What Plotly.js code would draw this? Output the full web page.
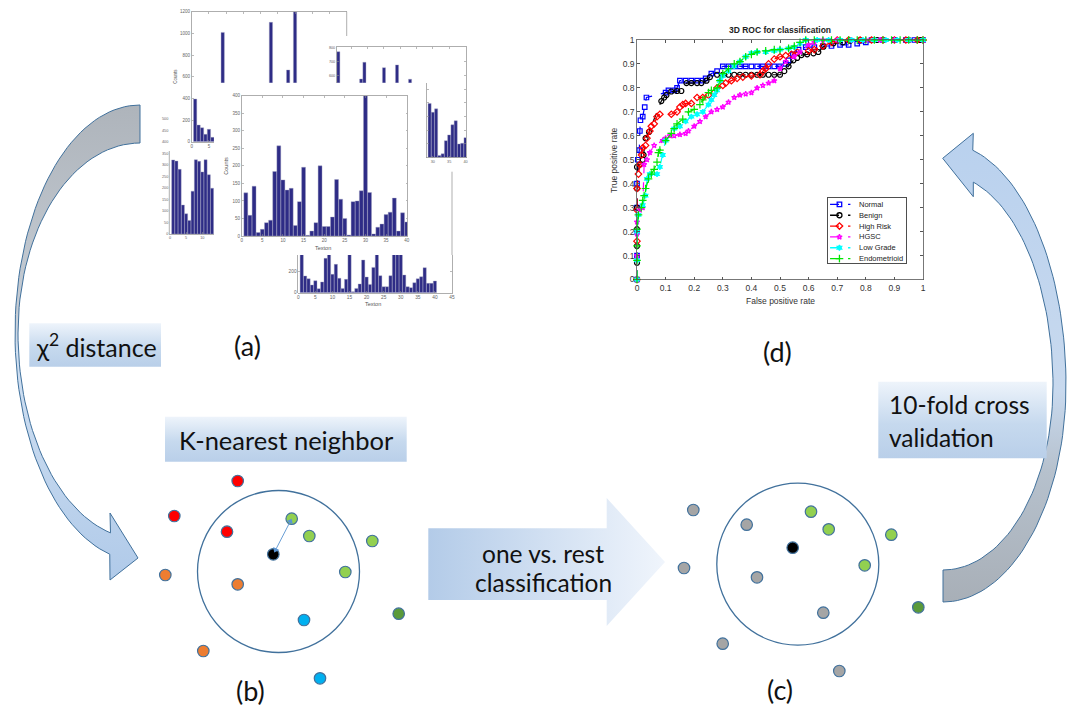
<!DOCTYPE html>
<html><head><meta charset="utf-8">
<script src="https://cdn.plot.ly/plotly-3.0.1.min.js"></script>
<style>html,body{margin:0;padding:0;background:#fff;}#chart{width:1073px;height:710px;}</style>
</head><body><div id="chart"></div>
<script>
// ================= DATA =================
// (a) texton histograms
const histT1X = [1,2,3,4,5,6,9,23,28,30];
const histT1Y = [394,154,129,68,114,40,1009,1102,662,1200];
const histTRX = [1,8,9,15,19,23,29,30,31,32,33,34,35,36,37,38,39,40];
const histTRY = [771,573,694,655,675,571,395,330,355,15,27,123,165,239,268,99,104,145];
const histLX = [1,2,3,4,5,6,7,8,9,10,11,12,13];
const histLY = [322,317,281,126,88,59,186,323,316,270,323,258,199];
const textonBins = [1,2,3,4,5,6,7,8,9,10,11,12,13,14,15,16,17,18,19,20,21,22,23,24,25,26,27,28,29,30,31,32,33,34,35,36,37,38,39,40];
const histCY = [123,59,142,10,19,38,45,184,257,160,131,136,30,98,196,2,14,38,200,27,27,54,161,105,50,3,98,100,129,400,124,6,25,34,61,68,108,14,66,40];
const histBY = [380,159,133,73,114,38,102,327,380,175,270,137,41,127,380,10,41,83,311,149,79,241,380,162,57,57,162,380,380,380,168,57,48,95,133,152,238,89,89,111];
const histT1TicksY = [600,800,1000,1200];
const histT1TicksYLow = [0,200,400];
const histTRTicksY = [600,700,800];
const histLTicksY = [0,50,100,150,200,250,300,350,400,450,500];
const histBTicksY = [0,200];
const histTitles = ['Counts','Texton'];

// (d) ROC curves [FPR, TPR]
const rocClasses = ['Normal','Benign','High Risk','HGSC','Low Grade','Endometrioid'];
const rocNormal = [[0,0],[0,0.1],[0,0.2],[0,0.3],[0,0.4],[0.003,0.5],[0.008,0.54],[0.01,0.62],[0.012,0.665],[0.02,0.68],[0.027,0.72],[0.033,0.76],[0.1,0.78],[0.11,0.79],[0.13,0.79],[0.14,0.8],[0.15,0.83],[0.17,0.83],[0.19,0.83],[0.21,0.83],[0.23,0.83],[0.24,0.84],[0.26,0.86],[0.28,0.87],[0.3,0.89],[0.32,0.89],[0.34,0.89],[0.36,0.89],[0.38,0.89],[0.4,0.89],[0.42,0.89],[0.44,0.89],[0.46,0.89],[0.48,0.89],[0.5,0.89],[0.52,0.9],[0.53,0.915],[0.545,0.94],[0.565,0.96],[0.59,0.97],[0.62,0.97],[0.65,0.975],[0.68,0.975],[0.71,0.98],[0.74,0.98],[0.77,0.985],[0.8,0.99],[0.82,1],[0.86,1],[0.9,1],[0.94,1],[0.97,1],[1,1]];
const rocBenign = [[0,0],[0,0.07],[0,0.14],[0,0.21],[0,0.3],[0,0.38],[0,0.47],[0.01,0.48],[0.02,0.5],[0.023,0.52],[0.03,0.59],[0.042,0.616],[0.085,0.745],[0.095,0.76],[0.103,0.77],[0.12,0.785],[0.14,0.787],[0.155,0.787],[0.173,0.82],[0.19,0.82],[0.21,0.82],[0.225,0.82],[0.243,0.83],[0.255,0.845],[0.28,0.855],[0.3,0.855],[0.32,0.855],[0.34,0.855],[0.36,0.855],[0.38,0.855],[0.4,0.855],[0.42,0.855],[0.44,0.855],[0.46,0.855],[0.48,0.855],[0.5,0.855],[0.515,0.87],[0.53,0.89],[0.547,0.915],[0.56,0.925],[0.575,0.937],[0.595,0.94],[0.617,0.944],[0.634,0.95],[0.652,0.972],[0.687,0.986],[0.72,0.99],[0.745,0.997],[0.78,1],[0.84,1],[0.9,1],[0.95,1],[0.99,1]];
const rocHighRisk = [[0,0],[0,0.16],[0,0.29],[0,0.38],[0.005,0.44],[0.01,0.48],[0.016,0.52],[0.02,0.55],[0.03,0.56],[0.035,0.59],[0.045,0.62],[0.05,0.64],[0.06,0.65],[0.07,0.68],[0.08,0.69],[0.12,0.69],[0.14,0.7],[0.15,0.72],[0.16,0.73],[0.17,0.735],[0.19,0.735],[0.21,0.76],[0.23,0.76],[0.25,0.77],[0.27,0.78],[0.28,0.8],[0.3,0.81],[0.31,0.82],[0.33,0.83],[0.35,0.84],[0.37,0.845],[0.4,0.85],[0.43,0.855],[0.44,0.87],[0.45,0.88],[0.46,0.9],[0.48,0.92],[0.5,0.93],[0.52,0.935],[0.54,0.94],[0.56,0.95],[0.6,0.955],[0.62,0.96],[0.65,0.975],[0.68,0.99],[0.7,1],[0.74,1],[0.78,1],[0.82,1],[0.86,1],[0.9,1],[0.94,1],[0.98,1],[1,1]];
const rocHGSC = [[0,0],[0,0.1],[0,0.19],[0,0.24],[0.01,0.29],[0.02,0.3],[0.025,0.48],[0.035,0.5],[0.045,0.53],[0.06,0.56],[0.09,0.58],[0.1,0.59],[0.115,0.6],[0.13,0.6],[0.15,0.605],[0.17,0.61],[0.18,0.62],[0.2,0.64],[0.22,0.66],[0.24,0.68],[0.26,0.7],[0.28,0.71],[0.3,0.72],[0.32,0.74],[0.34,0.76],[0.36,0.77],[0.38,0.775],[0.4,0.78],[0.42,0.8],[0.44,0.81],[0.46,0.82],[0.48,0.83],[0.5,0.88],[0.52,0.91],[0.55,0.93],[0.57,0.95],[0.6,0.98],[0.62,0.99],[0.65,1],[0.7,1],[0.75,1],[0.8,1],[0.85,1],[0.9,1],[0.95,1],[1,1]];
const rocLowGrade = [[0,0],[0,0.08],[0,0.2],[0.005,0.27],[0.02,0.31],[0.03,0.35],[0.035,0.42],[0.045,0.44],[0.07,0.44],[0.08,0.47],[0.09,0.52],[0.1,0.58],[0.13,0.63],[0.15,0.64],[0.17,0.66],[0.19,0.68],[0.21,0.69],[0.23,0.7],[0.25,0.73],[0.26,0.75],[0.27,0.77],[0.28,0.79],[0.29,0.83],[0.3,0.85],[0.32,0.87],[0.34,0.89],[0.36,0.91],[0.38,0.93],[0.4,0.945],[0.42,0.95],[0.45,0.95],[0.48,0.955],[0.5,0.96],[0.53,0.965],[0.55,0.97],[0.57,0.985],[0.59,1],[0.63,1],[0.67,1],[0.71,1],[0.75,1],[0.79,1],[0.83,1],[0.87,1],[0.91,1],[0.95,1],[1,1]];
const rocEndo = [[0,0],[0,0.08],[0,0.14],[0,0.21],[0.005,0.27],[0.015,0.3],[0.02,0.33],[0.025,0.35],[0.03,0.38],[0.04,0.42],[0.05,0.44],[0.06,0.46],[0.07,0.49],[0.075,0.53],[0.08,0.54],[0.1,0.58],[0.12,0.61],[0.13,0.63],[0.14,0.65],[0.16,0.67],[0.18,0.7],[0.2,0.71],[0.22,0.73],[0.23,0.75],[0.25,0.78],[0.26,0.79],[0.28,0.8],[0.29,0.83],[0.3,0.86],[0.32,0.88],[0.34,0.9],[0.36,0.91],[0.38,0.93],[0.4,0.94],[0.42,0.95],[0.45,0.955],[0.48,0.96],[0.5,0.96],[0.53,0.965],[0.55,0.975],[0.57,0.99],[0.59,1],[0.62,1],[0.65,1],[0.68,1],[0.71,1],[0.74,1],[0.77,1],[0.8,1],[0.83,1],[0.86,1],[0.89,1],[0.92,1],[0.95,1],[0.98,1],[1,1]];
const rocSeries = [rocNormal, rocBenign, rocHighRisk, rocHGSC, rocLowGrade, rocEndo];
const rocColors = ['#0000ff','#000000','#ff0000','#ff00ff','#00ffff','#00e600'];
const rocSymbols = ['square-open','circle-open','diamond-open','star-open','hexagram','cross-thin-open'];
const rocMarkerSize = [4.5,5,5,4,4,5.5];
const rocTitle = '3D ROC for classification';
const rocXTitle = 'False positive rate';
const rocYTitle = 'True positive rate';

// (b) K-nearest neighbour points
const knnBX = [237.7,174.3,227,291.7,309.3,372.3,345.3,165.3,237.7,398.7,304,203.3,320,273.3];
const knnBY = [481,516,531.7,518.7,536,541,572,575,584.3,613.7,620,651,678.3,554.3];
const knnBColor = ['#ff0000','#ff0000','#ff0000','#92d050','#92d050','#92d050','#92d050','#ed7d31','#ed7d31','#5a9a3a','#00b0f0','#ed7d31','#00b0f0','#000000'];
// (c) one-vs-rest points
const knnCX = [693.3,746.7,811,828.7,891.3,684,757,864.7,918.3,823.3,722.7,839.3,792.7];
const knnCY = [510,524.7,511.7,529.3,534.7,568,577.3,565.3,607.3,612.7,643.7,671,547.7];
const knnCColor = ['#a5a5a5','#a5a5a5','#92d050','#92d050','#92d050','#a5a5a5','#a5a5a5','#92d050','#5a9a3a','#a5a5a5','#a5a5a5','#a5a5a5','#000000'];

const panelLabels = ['(a)','(b)','(c)','(d)'];
const boxTexts = ['χ<sup>2</sup> distance','K-nearest neighbor','10-fold cross','validation','one vs. rest','classification'];

// ================= HELPERS =================
const W = 1073, H = 710;
const dx = (a,b) => [a/W, b/W];
const dy = (top,bot) => [1-bot/H, 1-top/H];
const FONT = 'Liberation Sans, Arial, sans-serif';
const TXT = 'Lato, Open Sans, sans-serif';

function hax(o){
  return Object.assign({showgrid:false, zeroline:false, showline:true, linecolor:'#8c8c8c', linewidth:0.7,
    ticks:'inside', ticklen:1.8, tickwidth:0.6, tickcolor:'#8c8c8c',
    tickfont:{family:FONT, size:4.5, color:'#666'}, fixedrange:true}, o);
}
function bars(x,y,xa,ya){
  return {type:'bar', x:x, y:y, xaxis:xa, yaxis:ya, width:0.95,
    marker:{color:'#2e2c86', line:{color:'#a3a3c2', width:0.4}}, hoverinfo:'skip', showlegend:false};
}
function ellArc(cx,cy,rx,ry,a0,a1,n){
  const pts=[];
  for(let k=0;k<=n;k++){const a=(a0+(a1-a0)*k/n)*Math.PI/180; pts.push([cx+rx*Math.cos(a), cy+ry*Math.sin(a)]);}
  return pts;
}
function rect(x0,y0,x1,y1){return [[x0,y0],[x1,y0],[x1,y1],[x0,y1],[x0,y0]];}
function poly(pts, grad, lineW){
  return {type:'scatter', x:pts.map(p=>p[0]), y:pts.map(p=>p[1]), xaxis:'x', yaxis:'y', mode:'lines',
    fill:'toself', fillgradient:grad, line:{color:'#41719c', width:lineW}, hoverinfo:'skip', showlegend:false};
}

// ================= DECORATIONS (canvas) =================
const leftArrow = [].concat(
  ellArc(140,333,125,228,270,104,70),
  [[110,580],[138,558],[110,513]],
  ellArc(140,333,122,206,104,180,35),
  ellArc(140,333,122,190,180,270,35));
leftArrow.push(leftArrow[0]);
const rightArrow = [].concat(
  ellArc(943,385,123,217,90,0,40),
  ellArc(943,385,123,242,0,-76,40),
  [[973.3,133.3],[942.7,158.3],[973.3,196.7]],
  ellArc(943,385,110,211,-74,0,40),
  ellArc(943,385,110,185,0,90,40));
rightArrow.push(rightArrow[0]);
const ovrArrow = [[428.3,528.3],[606.7,528.3],[606.7,498],[665,562],[606.7,626],[606.7,600],[428.3,600],[428.3,528.3]];

// note: with the reversed canvas y axis, colorscale 0 is drawn at the bottom
const boxGrad = {type:'vertical', colorscale:[[0,'#b9cfe9'],[0.45,'#c6d9ee'],[1,'#eef4fb']]};
const traces = [
  poly(leftArrow, {type:'vertical', colorscale:[[0,'#b0cae9'],[0.48,'#d2e1f2'],[0.56,'#c6cdd5'],[1,'#aeb4bb']]}, 1),
  poly(rightArrow, {type:'vertical', colorscale:[[0,'#a8afb7'],[0.28,'#b6c1cd'],[0.45,'#c8d9ee'],[1,'#b9d1ee']]}, 1),
  poly(ovrArrow, {type:'horizontal', colorscale:[[0,'#b3cbe8'],[1,'#f0f5fc']]}, 0),
  poly(rect(29.3,323.3,161,366.7), boxGrad, 0),
  poly(rect(165,416.7,406.7,461.7), boxGrad, 0),
  poly(rect(878.3,381.7,1046.7,458.3), boxGrad, 0)
];

// ================= HISTOGRAMS =================
traces.push(bars(histT1X, histT1Y, 'x2','y2'));
traces.push(bars(histT1X, histT1Y, 'x3','y3'));
traces.push(bars(histTRX, histTRY, 'x4','y4'));
traces.push(bars(histTRX, histTRY, 'x5','y5'));
traces.push(bars(histLX, histLY, 'x6','y6'));
traces.push(bars(textonBins, histBY, 'x7','y7'));
traces.push(bars(textonBins, histCY, 'x8','y8'));

// ================= ROC =================
rocSeries.forEach((s,i)=>{
  traces.push({type:'scatter', x:s.map(p=>p[0]), y:s.map(p=>p[1]), xaxis:'x9', yaxis:'y9',
    mode:'lines+markers', cliponaxis:false, line:{color:rocColors[i], width:1.2, dash:'dash'},
    marker:{symbol:rocSymbols[i], size:rocMarkerSize[i], color:rocColors[i], line:{color:rocColors[i], width:1.2}},
    hoverinfo:'skip', showlegend:false});
});
// custom legend samples (line + centred marker)
rocClasses.forEach((c,i)=>{
  traces.push({type:'scatter', x:[0.03,0.29], y:[i+0.62,i+0.62], xaxis:'x10', yaxis:'y10',
    mode:'lines', line:{color:rocColors[i], width:1.3, dash:'dash'}, hoverinfo:'skip', showlegend:false});
  traces.push({type:'scatter', x:[0.15], y:[i+0.62], xaxis:'x10', yaxis:'y10', mode:'markers',
    marker:{symbol:rocSymbols[i], size:rocMarkerSize[i], color:rocColors[i], line:{color:rocColors[i], width:1.3}},
    hoverinfo:'skip', showlegend:false});
});

// ================= KNN SCATTERS =================
traces.push({type:'scatter', x:knnBX, y:knnBY, xaxis:'x11', yaxis:'y11', mode:'markers',
  marker:{size:11.5, color:knnBColor, line:{color:'#41719c', width:1.2}}, hoverinfo:'skip', showlegend:false});
traces.push({type:'scatter', x:knnCX, y:knnCY, xaxis:'x12', yaxis:'y12', mode:'markers',
  marker:{size:11.5, color:knnCColor, line:{color:'#41719c', width:1.2}}, hoverinfo:'skip', showlegend:false});
(function(){
  const qx=knnBX[13], qy=knnBY[13], nx=knnBX[3], ny=knnBY[3];
  const ex=nx-qx, ey=ny-qy, L=Math.hypot(ex,ey), ux=ex/L, uy=ey/L;
  const p0=[qx+ux*5, qy+uy*5], p1=[nx-ux*3, ny-uy*3];
  const angEnd = Math.atan2(ux, -uy)*180/Math.PI;
  traces.push({type:'scatter', x:[p0[0],p1[0]], y:[p0[1],p1[1]], xaxis:'x11', yaxis:'y11', mode:'lines+markers',
    line:{color:'#6a9fd6', width:1}, marker:{symbol:'triangle-up', size:6, color:'#5b95d3', angle:[angEnd+180, angEnd]},
    hoverinfo:'skip', showlegend:false});
})();

// ================= LAYOUT =================
const hid = {visible:false, fixedrange:true};
const small = {family:FONT, size:3.8, color:'#666'};
const layout = {
  width:W, height:H, margin:{l:0,r:0,t:0,b:0}, paper_bgcolor:'#ffffff', plot_bgcolor:'rgba(0,0,0,0)',
  showlegend:false, bargap:0,
  xaxis: Object.assign({domain:[0,1], range:[0,W], anchor:'y'}, hid),
  yaxis: Object.assign({domain:[0,1], range:[H,0], anchor:'x'}, hid),
  xaxis2: hax({domain:dx(191.7,346.7), range:[0,45], anchor:'y2', side:'top', dtick:5, tick0:0, showticklabels:false}),
  yaxis2: hax({domain:dy(11.7,82.7), range:[544.6,1200], anchor:'x2', tickvals:histT1TicksY}),
  xaxis3: hax({domain:dx(191.7,214), range:[0,6.47], anchor:'y3', tickvals:[0,5]}),
  yaxis3: hax({domain:dy(82.7,141.7), range:[0,544.6], anchor:'x3', tickvals:histT1TicksYLow}),
  xaxis4: hax({domain:dx(336.7,466), range:[0.5,40.15], anchor:'y4', side:'top', dtick:5, tick0:0, showticklabels:false}),
  yaxis4: hax({domain:dy(46.7,82.7), range:[546,807], anchor:'x4', tickvals:histTRTicksY, mirror:'ticks', tickfont:small}),
  xaxis5: hax({domain:dx(427,466), range:[28.2,40.15], anchor:'y5', tickvals:[30,35,40], tickfont:small}),
  yaxis5: hax({domain:dy(82.7,157.5), range:[0,546], anchor:'x5', tickvals:[100,200,300,400,500], showticklabels:false, mirror:'ticks'}),
  xaxis6: hax({domain:dx(169.3,214), range:[-0.2,13.6], anchor:'y6', tickvals:[0,5,10], tickfont:small}),
  yaxis6: hax({domain:dy(114,234), range:[0,521.7], anchor:'x6', tickvals:histLTicksY, showline:false, ticks:'', tickfont:small}),
  xaxis7: hax({domain:dx(298.3,452), range:[0,45], anchor:'y7', dtick:5, tick0:0, tickfont:{family:FONT,size:4.8,color:'#666'}}),
  yaxis7: hax({domain:dy(255,292.7), range:[0,359], anchor:'x7', tickvals:histBTicksY, mirror:'ticks', tickfont:{family:FONT,size:4.8,color:'#666'}}),
  xaxis8: hax({domain:dx(241.7,407.3), range:[0,40.15], anchor:'y8', dtick:5, tick0:0, mirror:'ticks'}),
  yaxis8: hax({domain:dy(95.7,236), range:[0,400], anchor:'x8', dtick:50, tick0:0, mirror:'ticks'}),
  xaxis9: {domain:dx(637,923), range:[0,1], anchor:'y9', showline:true, mirror:'ticks', linecolor:'#555', linewidth:0.8,
    ticks:'inside', ticklen:3, tickcolor:'#555', dtick:0.1, tick0:0, showgrid:false, zeroline:false, fixedrange:true,
    tickfont:{family:FONT, size:8.5, color:'#333'}},
  yaxis9: {domain:dy(40,279.5), range:[0,1], anchor:'x9', showline:true, mirror:'ticks', linecolor:'#555', linewidth:0.8,
    ticks:'inside', ticklen:3, tickcolor:'#555', dtick:0.1, tick0:0, showgrid:false, zeroline:false, fixedrange:true,
    tickfont:{family:FONT, size:8.5, color:'#333'}},
  xaxis10: {domain:dx(827.7,906), range:[0,1], anchor:'y10', showline:true, mirror:true, linecolor:'#222', linewidth:0.8,
    showticklabels:false, ticks:'', showgrid:false, zeroline:false, fixedrange:true},
  yaxis10: {domain:dy(197.7,262.7), range:[6,0], anchor:'x10', showline:true, mirror:true, linecolor:'#222', linewidth:0.8,
    showticklabels:false, ticks:'', showgrid:false, zeroline:false, fixedrange:true},
  xaxis11: Object.assign({domain:dx(150,420), range:[150,420], anchor:'y11'}, hid),
  yaxis11: Object.assign({domain:dy(465,700), range:[700,465], anchor:'x11'}, hid),
  xaxis12: Object.assign({domain:dx(660,940), range:[660,940], anchor:'y12'}, hid),
  yaxis12: Object.assign({domain:dy(470,700), range:[700,470], anchor:'x12'}, hid),
  shapes: [
    {type:'line', xref:'paper', yref:'paper', x0:346.7/W, x1:346.7/W, y0:1-11.7/H, y1:1-36/H, line:{color:'#8c8c8c', width:0.7}},
    {type:'line', xref:'paper', yref:'paper', x0:452/W, x1:452/W, y0:1-171.7/H, y1:1-255/H, line:{color:'#8c8c8c', width:0.7}},
    {type:'line', xref:'paper', yref:'paper', x0:169.3/W, x1:169.3/W, y0:1-151/H, y1:1-234/H, line:{color:'#8c8c8c', width:0.7}},
    {type:'circle', xref:'x11', yref:'y11', x0:197.5, x1:359.5, y0:490.5, y1:652.5, layer:'below', line:{color:'#41719c', width:1.3}},
    {type:'circle', xref:'x12', yref:'y12', x0:716.8, x1:878.8, y0:483.2, y1:645.2, layer:'below', line:{color:'#41719c', width:1.3}}
  ],
  annotations: []
};
const A = layout.annotations;
function txt(t,x,y,size,opts){A.push(Object.assign({text:t, x:x, y:y, xref:'x', yref:'y', showarrow:false, font:{family:TXT, size:size, color:'#111'}}, opts||{}));}
txt(boxTexts[0], 96, 345, 25);
txt(boxTexts[1], 286, 440, 25.5);
txt(boxTexts[2], 887, 404, 24.5, {xanchor:'left'});
txt(boxTexts[3], 887, 437, 24.5, {xanchor:'left'});
txt(boxTexts[4], 543, 553, 24.5);
txt(boxTexts[5], 543, 582, 24.5);
txt(panelLabels[0], 247, 345, 27);
txt(panelLabels[1], 250, 690, 27);
txt(panelLabels[2], 780, 689, 27);
txt(panelLabels[3], 777, 351, 27);
const hf = {family:FONT, size:5.5, color:'#555'};
A.push({text:histTitles[0], x:226, y:165.7, xref:'x', yref:'y', showarrow:false, textangle:-90, font:hf});
A.push({text:histTitles[1], x:323.3, y:248.3, xref:'x', yref:'y', showarrow:false, font:hf});
A.push({text:histTitles[1], x:373.3, y:304.3, xref:'x', yref:'y', showarrow:false, font:hf});
A.push({text:histTitles[0], x:176, y:76.7, xref:'x', yref:'y', showarrow:false, textangle:-90, font:{family:FONT,size:4.5,color:'#555'}});
A.push({text:'<b>'+rocTitle+'</b>', x:780, y:30, xref:'x', yref:'y', showarrow:false, font:{family:FONT, size:8.5, color:'#222'}});
A.push({text:rocXTitle, x:780, y:301, xref:'x', yref:'y', showarrow:false, font:{family:FONT, size:8.5, color:'#333'}});
A.push({text:rocYTitle, x:614, y:160, xref:'x', yref:'y', showarrow:false, textangle:-90, font:{family:FONT, size:8.5, color:'#333'}});
rocClasses.forEach((c,i)=>{
  A.push({text:c, x:0.37, y:i+0.62, xref:'x10', yref:'y10', xanchor:'left', showarrow:false, font:{family:FONT, size:7.5, color:'#222'}});
});

Plotly.newPlot('chart', traces, layout, {staticPlot:true});
</script>
</body></html>
